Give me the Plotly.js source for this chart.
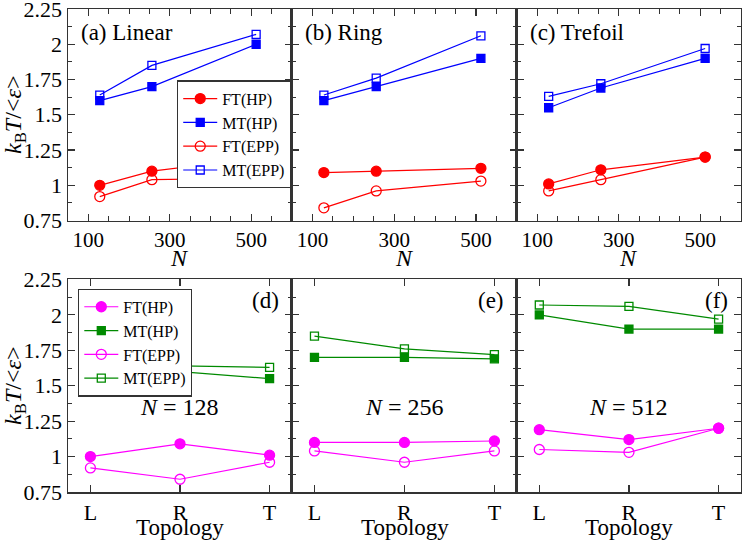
<!DOCTYPE html>
<html>
<head>
<meta charset="utf-8">
<script src="https://cdn.plot.ly/plotly-3.0.1.min.js"></script>
<style>
  body { margin: 0; background: #fff; }
  #chart { width: 742px; height: 542px; }
</style>
</head>
<body>
<div id="chart"></div>
<script>
// chain lengths and topologies
var nValues = [128, 256, 512];
var topologies = ['L', 'R', 'T'];
var panelNames = ['(a) Linear', '(b) Ring', '(c) Trefoil'];
var bottomNames = ['(d)', '(e)', '(f)'];

// kB T / <eps>, one array per topology, index = N (128, 256, 512)
var ftHP = {
  L: [1.00, 1.10, 1.19],
  R: [1.09, 1.10, 1.12],
  T: [1.01, 1.11, 1.20]
};
var mtHP = {
  L: [1.60, 1.70, 2.00],
  R: [1.60, 1.70, 1.90],
  T: [1.55, 1.69, 1.90]
};
var ftEPP = {
  L: [0.92, 1.04, 1.05],
  R: [0.84, 0.96, 1.03],
  T: [0.96, 1.04, 1.20]
};
var mtEPP = {
  L: [1.64, 1.85, 2.07],
  R: [1.64, 1.76, 2.06],
  T: [1.63, 1.72, 1.97]
};

var yTickVals = [0.75, 1, 1.25, 1.5, 1.75, 2, 2.25];
var yTickText = ['0.75', '1', '1.25', '1.5', '1.75', '2', '2.25'];
var nTickVals = [100, 300, 500];
var nMinorVals = [150, 200, 250, 350, 400, 450, 550];

var FONT = '"Liberation Serif", "Times New Roman", serif';
var series = [
  {name: 'FT(HP)', data: ftHP, symbol: 'circle', size: 10, top: '#ff0000', bot: '#ff00ff'},
  {name: 'MT(HP)', data: mtHP, symbol: 'square', size: 8, top: '#0000ff', bot: '#008a00'},
  {name: 'FT(EPP)', data: ftEPP, symbol: 'circle-open', size: 10, top: '#ff0000', bot: '#ff00ff'},
  {name: 'MT(EPP)', data: mtEPP, symbol: 'square-open', size: 8, top: '#0000ff', bot: '#008a00'}
];

var traces = [];
// top row: x = N, one panel per topology
topologies.forEach(function (t, p) {
  series.forEach(function (s) {
    traces.push({
      x: nValues, y: s.data[t], name: s.name,
      xaxis: 'x' + (p === 0 ? '' : p + 1), yaxis: 'y' + (p === 0 ? '' : p + 1),
      mode: 'lines+markers', type: 'scatter',
      line: {color: s.top, width: 1.2},
      marker: {symbol: s.symbol, size: s.size, color: s.top, line: {color: s.top, width: 1.3}},
      showlegend: p === 0, legend: 'legend'
    });
  });
});
// bottom row: x = topology, one panel per N
nValues.forEach(function (n, k) {
  series.forEach(function (s) {
    traces.push({
      x: topologies, y: topologies.map(function (t) { return s.data[t][k]; }), name: s.name,
      xaxis: 'x' + (k + 4), yaxis: 'y' + (k + 4),
      mode: 'lines+markers', type: 'scatter',
      line: {color: s.bot, width: 1.2},
      marker: {symbol: s.symbol, size: s.size, color: s.bot, line: {color: s.bot, width: 1.3}},
      showlegend: k === 0, legend: 'legend2'
    });
  });
});

var xDom = [[0, 0.3328], [0.3328, 0.667], [0.667, 1]];
var topDom = [0.562, 1];
var botDom = [0, 0.44];

function yAxis(domain, anchor, labels) {
  var ax = {
    domain: domain, anchor: anchor, range: [0.75, 2.25],
    tickmode: 'array', tickvals: yTickVals, ticktext: yTickText,
    ticks: 'inside', ticklen: 7, tickwidth: 1.2, tickcolor: '#333',
    minor: {dtick: 0.125, tick0: 0.75, ticks: 'inside', ticklen: 4, tickwidth: 1, tickcolor: '#333'},
    showline: true, linecolor: '#333', linewidth: 1.5, mirror: 'allticks',
    showgrid: false, zeroline: false, showticklabels: labels,
    ticklabeloverflow: 'allow',
    tickfont: {family: FONT, size: 22, color: '#000'}
  };
  if (labels) {
    ax.title = {text: '<i>k</i><sub>B</sub><i>T</i>/&lt;<i>ε</i>&gt;', font: {family: FONT, size: 24, color: '#000'}, standoff: 8};
  }
  return ax;
}
function nAxis(domain, anchor) {
  return {
    domain: domain, anchor: anchor, range: [50, 600],
    tickmode: 'array', tickvals: nTickVals,
    ticks: 'inside', ticklen: 7, tickwidth: 1.2, tickcolor: '#333',
    minor: {tickvals: nMinorVals, ticks: 'inside', ticklen: 5, tickwidth: 1, tickcolor: '#333'},
    showline: true, linecolor: '#333', linewidth: 1.5, mirror: 'allticks',
    showgrid: false, zeroline: false,
    tickfont: {family: FONT, size: 21, color: '#000'}
  };
}
function topoAxis(domain, anchor) {
  return {
    domain: domain, anchor: anchor, type: 'category', range: [-0.25, 2.25],
    ticks: 'inside', ticklen: 7, tickwidth: 1.2, tickcolor: '#333',
    showline: true, linecolor: '#333', linewidth: 1.5, mirror: 'allticks',
    showgrid: false, zeroline: false,
    tickfont: {family: FONT, size: 22, color: '#000'}
  };
}

var layout = {
  width: 742, height: 542,
  margin: {l: 68, r: 1, t: 9, b: 50},
  paper_bgcolor: '#fff', plot_bgcolor: '#fff',
  font: {family: FONT, color: '#000'},
  xaxis: nAxis(xDom[0], 'y'), yaxis: yAxis(topDom, 'x', true),
  xaxis2: nAxis(xDom[1], 'y2'), yaxis2: yAxis(topDom, 'x2', false),
  xaxis3: nAxis(xDom[2], 'y3'), yaxis3: yAxis(topDom, 'x3', false),
  xaxis4: topoAxis(xDom[0], 'y4'), yaxis4: yAxis(botDom, 'x4', true),
  xaxis5: topoAxis(xDom[1], 'y5'), yaxis5: yAxis(botDom, 'x5', false),
  xaxis6: topoAxis(xDom[2], 'y6'), yaxis6: yAxis(botDom, 'x6', false),
  legend: {
    x: 0.162, y: 0.852, xanchor: 'left', yanchor: 'top',
    bgcolor: '#fff', bordercolor: '#333', borderwidth: 1.2,
    font: {family: FONT, size: 16, color: '#000'},
    itemwidth: 34, tracegroupgap: 0
  },
  legend2: {
    x: 0.015, y: 0.421, xanchor: 'left', yanchor: 'top',
    bgcolor: '#fff', bordercolor: '#333', borderwidth: 1.2,
    font: {family: FONT, size: 16, color: '#000'},
    itemwidth: 34, tracegroupgap: 0
  },
  annotations: []
};

var colCenters = [0.1664, 0.5, 0.8335];
panelNames.forEach(function (txt, p) {
  var id = p === 0 ? '' : p + 1;
  layout.annotations.push({
    text: txt, xref: 'x' + id + ' domain', yref: 'y' + id + ' domain',
    x: 0.05, y: 0.89, xanchor: 'left', yanchor: 'middle', showarrow: false,
    font: {family: FONT, size: 23, color: '#000'}
  });
  // x-axis title of the top row
  layout.annotations.push({
    text: '<i>N</i>', xref: 'paper', yref: 'paper',
    x: colCenters[p], y: 0.485, xanchor: 'center', yanchor: 'middle', showarrow: false,
    font: {family: FONT, size: 24, color: '#000'}
  });
});
bottomNames.forEach(function (txt, k) {
  layout.annotations.push({
    text: txt, xref: 'x' + (k + 4) + ' domain', yref: 'y' + (k + 4) + ' domain',
    x: 0.95, y: 0.9, xanchor: 'right', yanchor: 'middle', showarrow: false,
    font: {family: FONT, size: 23, color: '#000'}
  });
  layout.annotations.push({
    text: '<i>N</i> = ' + nValues[k], xref: 'x' + (k + 4) + ' domain', yref: 'y' + (k + 4) + ' domain',
    x: 0.5, y: 0.4, xanchor: 'center', yanchor: 'middle', showarrow: false,
    font: {family: FONT, size: 24, color: '#000'}
  });
  // x-axis title of the bottom row
  layout.annotations.push({
    text: 'Topology', xref: 'paper', yref: 'paper',
    x: colCenters[k], y: -0.074, xanchor: 'center', yanchor: 'middle', showarrow: false,
    font: {family: FONT, size: 23, color: '#000'}
  });
});

Plotly.newPlot('chart', traces, layout, {displayModeBar: false, staticPlot: true});
</script>
</body>
</html>
